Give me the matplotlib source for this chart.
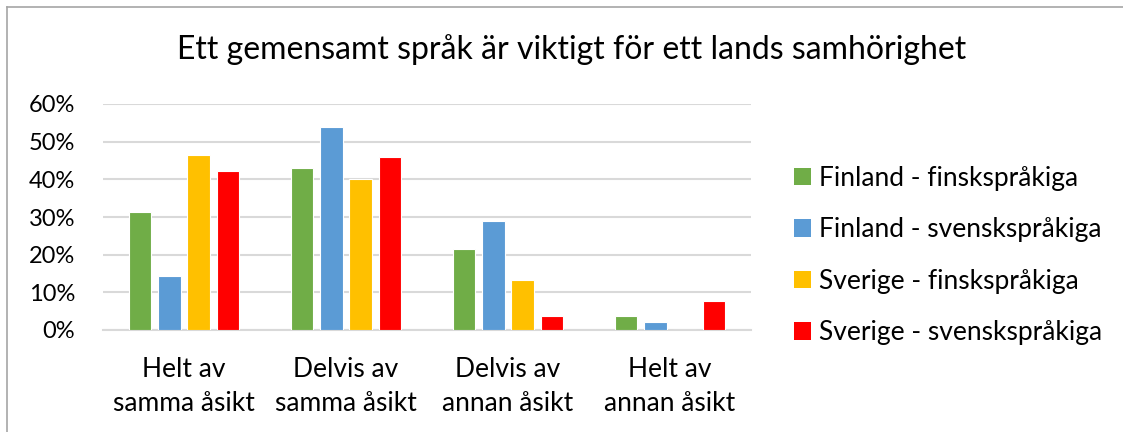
import matplotlib
matplotlib.use("Agg")
import matplotlib.pyplot as plt
from matplotlib.lines import Line2D
from matplotlib.patches import Patch
import numpy as np

plt.rcParams['font.family'] = ['Lato', 'DejaVu Sans']

title = "Ett gemensamt språk är viktigt för ett lands samhörighet"
categories = ["Helt av\nsamma åsikt", "Delvis av\nsamma åsikt", "Delvis av\nannan åsikt", "Helt av\nannan åsikt"]
series_names = ["Finland - finskspråkiga", "Finland - svenskspråkiga",
                "Sverige - finskspråkiga", "Sverige - svenskspråkiga"]
fin_fi = [0.312, 0.430, 0.214, 0.037]
fin_sv = [0.144, 0.540, 0.290, 0.020]
sve_fi = [0.465, 0.400, 0.132, 0.0]
sve_sv = [0.422, 0.460, 0.037, 0.076]
colors = ["#70AD47", "#5B9BD5", "#FFC000", "#FF0000"]
yticks = [0, 0.1, 0.2, 0.3, 0.4, 0.5, 0.6]
ytick_labels = ["0%", "10%", "20%", "30%", "40%", "50%", "60%"]

W, H = 1123, 432
fig = plt.figure(figsize=(W / 100, H / 100), dpi=100)
ax = fig.add_axes([103 / W, 102 / H, (751 - 103) / W, (330 - 104) / H])

x = np.arange(len(categories))
width = 0.14
step = 0.181
all_series = [fin_fi, fin_sv, sve_fi, sve_sv]
for i, (vals, c, name) in enumerate(zip(all_series, colors, series_names)):
    ax.bar(x + (i - 1.5) * step, vals, width=width, color=c, edgecolor="white",
           linewidth=0.8, label=name, zorder=3)

ax.set_xlim(-0.5, 3.5)
ax.set_ylim(0, 0.6)
ax.set_yticks(yticks)
ax.set_yticklabels(ytick_labels, fontsize=17, color="#000000")
ax.set_xticks(x)
ax.set_xticklabels(categories, fontsize=19, color="#000000", linespacing=1.45)
ax.tick_params(axis="both", length=0)
ax.tick_params(axis="y", pad=20)
ax.tick_params(axis="x", pad=19.5)
ax.yaxis.grid(True, color="#D9D9D9", linewidth=1.5, zorder=0)
for s in ["top", "right", "left"]:
    ax.spines[s].set_visible(False)
ax.spines["bottom"].set_color("#D9D9D9")
ax.spines["bottom"].set_linewidth(1.5)

fig.text(571.5 / W, 1 - 50 / H, title, ha="center", va="center", fontsize=23, color="#000000")

handles = [Patch(facecolor=c, edgecolor="none") for c in colors]
fig.legend(handles, series_names, loc="center left", bbox_to_anchor=(794 / W, 1 - 255.5 / H),
           frameon=False, fontsize=19, handlelength=0.65, handleheight=0.65,
           handletextpad=0.3, labelspacing=1.0, borderaxespad=0, borderpad=0)

# outer chart border (top and left visible)
fig.add_artist(Line2D([7 / W, 1.0], [1 - 7 / H, 1 - 7 / H], color="#A6A6A6", linewidth=1.2))
fig.add_artist(Line2D([7 / W, 7 / W], [0, 1 - 7 / H], color="#A6A6A6", linewidth=1.2))

fig.savefig("out.png", dpi=100, facecolor="white")
